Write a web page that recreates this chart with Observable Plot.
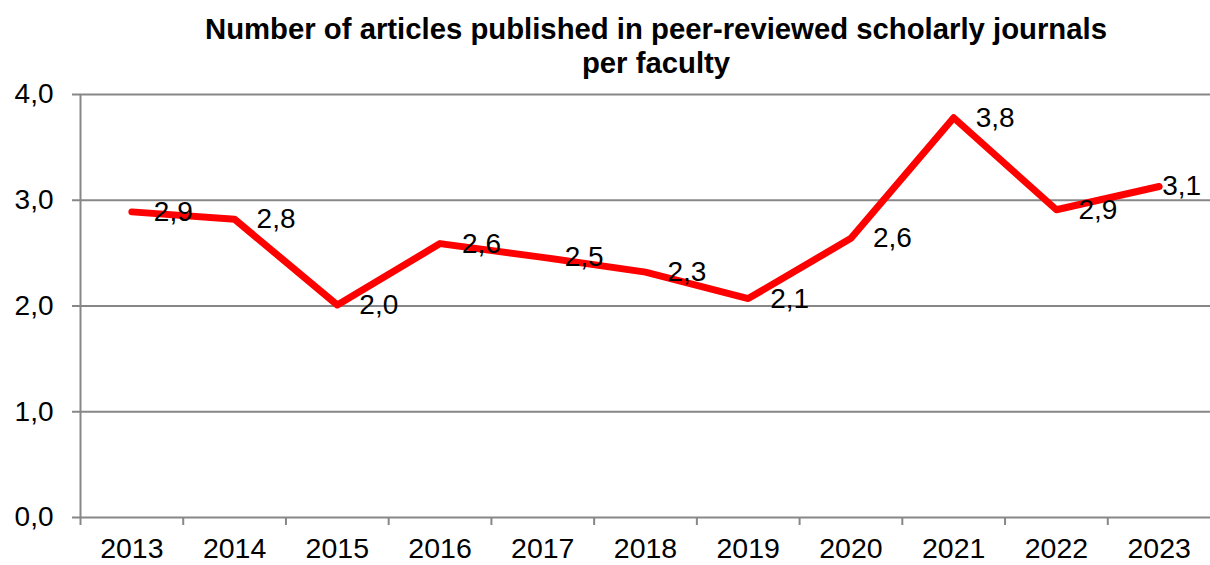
<!DOCTYPE html>
<html>
<head>
<meta charset="utf-8">
<script src="https://cdn.jsdelivr.net/npm/d3@7"></script>
<script src="https://cdn.jsdelivr.net/npm/@observablehq/plot@0.6"></script>
<style>
  html, body { margin: 0; padding: 0; background: #fff; }
  #wrap { width: 1210px; height: 565px; overflow: hidden; font-family: "Liberation Sans", Arial, sans-serif; }
  #title { position: relative; z-index: 1; box-sizing: border-box; width: 1210px; height: 70px; padding-top: 12px; padding-left: 102px;
           text-align: center; font-weight: bold; font-size: 29.3px; line-height: 34px; color: #000; white-space: nowrap; }
  svg { display: block; }
</style>
</head>
<body>
<div id="wrap">
  <div id="title">Number of articles published in peer-reviewed scholarly journals<br>per faculty</div>
  <div id="chart"></div>
</div>
<script>
const years = [2013, 2014, 2015, 2016, 2017, 2018, 2019, 2020, 2021, 2022, 2023];
const values = [2.89, 2.82, 2.01, 2.59, 2.46, 2.32, 2.07, 2.64, 3.78, 2.91, 3.13];
const yTicks = [0, 1, 2, 3, 4];

const data = years.map((year, i) => ({year, value: values[i]}));
const boundaries = years.map(y => y - 0.5);
const fmt = d => d.toFixed(1).replace(".", ",");
const gray = "#878787";
const lastYear = years[years.length - 1];

const chart = Plot.plot({
  width: 1210,
  height: 495,
  marginTop: 24,
  marginBottom: 48,
  marginLeft: 80,
  marginRight: 0,
  style: {fontFamily: "'Liberation Sans', Arial, sans-serif", fontSize: "28px", color: "#000", background: "transparent", overflow: "visible"},
  x: {domain: [years[0] - 0.5, lastYear + 0.5], label: null},
  y: {domain: [0, 4], label: null},
  marks: [
    Plot.ruleY(yTicks, {stroke: gray, strokeWidth: 2}),
    Plot.ruleX([years[0] - 0.5], {y1: 0, y2: 4, stroke: gray, strokeWidth: 2}),
    Plot.axisX({ticks: boundaries, tickSize: 8, tickFormat: () => "", stroke: gray, strokeWidth: 2, label: null}),
    Plot.axisX({ticks: years, tickSize: 0, tickPadding: 20, tickFormat: d => String(d), fontSize: 28.5, fill: "#000", label: null}),
    Plot.axisY({ticks: yTicks, tickSize: 8, tickPadding: 19, tickFormat: fmt, stroke: gray, strokeWidth: 2, fontSize: 28, fill: "#000", label: null}),
    Plot.line(data, {x: "year", y: "value", stroke: "#ff0000", strokeWidth: 7, strokeLinecap: "round", strokeLinejoin: "round"}),
    Plot.text(data.filter(d => d.year !== lastYear), {x: "year", y: "value", text: d => fmt(d.value), textAnchor: "start", dx: 22, fontSize: 28, fill: "#000"}),
    Plot.text(data.filter(d => d.year === lastYear), {x: "year", y: "value", text: d => fmt(d.value), textAnchor: "start", dx: 3, fontSize: 28, fill: "#000"})
  ]
});
document.getElementById("chart").appendChild(chart);
</script>
</body>
</html>
